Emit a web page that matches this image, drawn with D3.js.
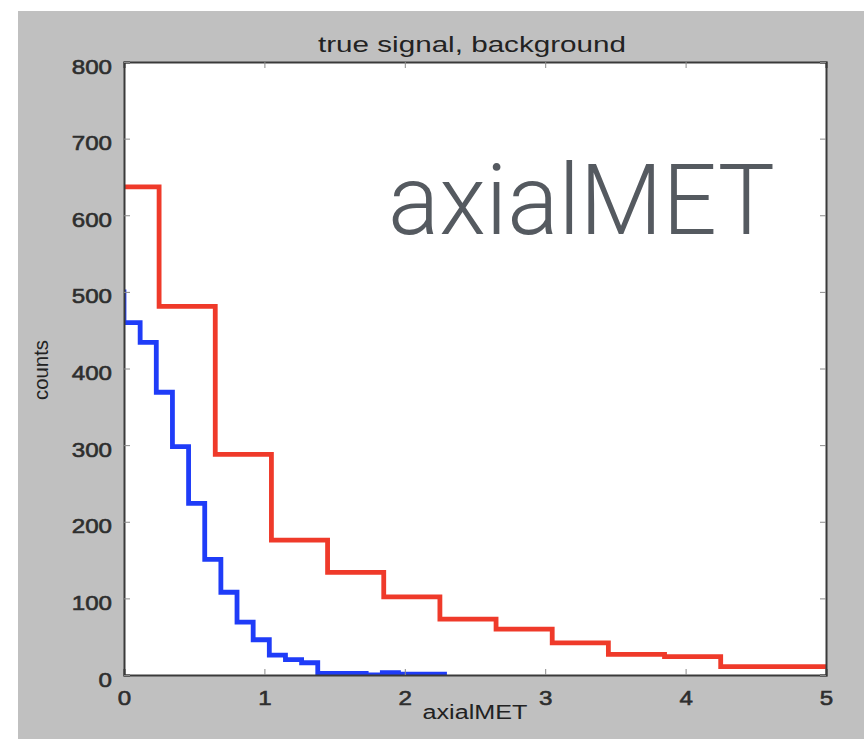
<!DOCTYPE html>
<html>
<head>
<meta charset="utf-8">
<script src="https://cdn.jsdelivr.net/npm/d3@7"></script>
<style>
  html, body { margin: 0; padding: 0; background: #ffffff; }
  svg { display: block; }
</style>
</head>
<body>
<svg id="chart" width="864" height="739"></svg>
<script>
// ---- data ----
const chartTitle = "true signal, background";
const xLabel = "axialMET";
const yLabel = "counts";
const annotation = "axialMET";
const xTicks = [0, 1, 2, 3, 4, 5];
const yTicks = [0, 100, 200, 300, 400, 500, 600, 700, 800];

// background (red) histogram: bin edges and counts
const redEdges = [-0.15, 0.25, 0.65, 1.05, 1.45, 1.85, 2.25, 2.65, 3.05, 3.45, 3.85, 4.25, 4.65, 5.05];
const redCounts = [637, 481, 288, 176, 134, 102, 73, 60, 42, 27, 24, 11, 11];

// signal (blue) histogram: bin edges and counts
const blueEdges = [-0.115, 0, 0.115, 0.23, 0.345, 0.46, 0.575, 0.69, 0.805, 0.92, 1.035, 1.15, 1.265, 1.38,
                   1.495, 1.61, 1.725, 1.84, 1.955, 2.07, 2.185, 2.30];
const blueCounts = [500, 460, 434, 369, 298, 224, 151, 108, 69, 46, 26, 20, 16, 2, 2, 2, 0, 3, 1, 1, 1];

// ---- layout ----
const W = 864, H = 739;
const plot = { left: 124, right: 826, top: 62, bottom: 675 };

const svg = d3.select("#chart");

// figure background
svg.append("rect").attr("x", 18).attr("y", 11).attr("width", W - 18).attr("height", H - 11)
  .attr("fill", "#c0c0c0");

const x = d3.scaleLinear().domain([0, 5]).range([plot.left, plot.right]);
const y = d3.scaleLinear().domain([0, 800]).range([plot.bottom, plot.top]);

// plot area
svg.append("rect").attr("x", plot.left).attr("y", plot.top)
  .attr("width", plot.right - plot.left).attr("height", plot.bottom - plot.top)
  .attr("fill", "#ffffff");

svg.append("clipPath").attr("id", "clip").append("rect")
  .attr("x", plot.left).attr("y", plot.top)
  .attr("width", plot.right - plot.left).attr("height", plot.bottom - plot.top);

// annotation text
svg.append("text")
  .attr("x", x(1.88)).attr("y", y(576))
  .attr("font-family", "Roboto, 'Open Sans', sans-serif")
  .attr("font-weight", 300)
  .attr("font-size", 98)
  .attr("fill", "#555a60")
  .attr("textLength", 387)
  .attr("lengthAdjust", "spacingAndGlyphs")
  .text(annotation);

// step lines
function stairs(edges, counts) {
  const pts = counts.map((c, i) => [edges[i], c]);
  pts.push([edges[edges.length - 1], counts[counts.length - 1]]);
  return pts;
}
const line = d3.line().x(d => x(d[0])).y(d => y(d[1])).curve(d3.curveStepAfter);

const g = svg.append("g").attr("clip-path", "url(#clip)");
g.append("path").datum(stairs(redEdges, redCounts))
  .attr("d", line).attr("fill", "none").attr("stroke", "#ef3a2a").attr("stroke-width", 4.8);
g.append("path").datum(stairs(blueEdges, blueCounts))
  .attr("d", line).attr("fill", "none").attr("stroke", "#1f3cf8").attr("stroke-width", 4.8);

// axes (matlab-style box with inward ticks)
const tickFont = "'Liberation Sans', Arial, Helvetica, sans-serif";
const axisColor = "#3a3a3a";

const axB = svg.append("g").attr("transform", `translate(0,${plot.bottom})`)
  .call(d3.axisBottom(x).tickValues(xTicks).tickSize(-6).tickFormat(d3.format("d")));
const axT = svg.append("g").attr("transform", `translate(0,${plot.top})`)
  .call(d3.axisTop(x).tickValues(xTicks).tickSize(-6).tickFormat(""));
const axL = svg.append("g").attr("transform", `translate(${plot.left},0)`)
  .call(d3.axisLeft(y).tickValues(yTicks).tickSize(-6).tickFormat(d3.format("d")));
const axR = svg.append("g").attr("transform", `translate(${plot.right},0)`)
  .call(d3.axisRight(y).tickValues(yTicks).tickSize(-6).tickFormat(""));

[axB, axT, axL, axR].forEach(a => {
  a.select(".domain").attr("stroke", axisColor).attr("stroke-width", 2);
  a.selectAll(".tick line").attr("stroke", "#8a8a8a").attr("stroke-width", 1);
  a.selectAll(".tick text").attr("font-family", tickFont).attr("font-size", 21)
    .attr("font-weight", "normal").attr("fill", "#2e2e2e")
    .attr("stroke", "#2e2e2e").attr("stroke-width", 0.6);
});
axL.selectAll(".tick text").attr("x", 0).attr("dy", 0)
  .attr("transform", "translate(-12,11) scale(1.15,1)");
axB.selectAll(".tick text").attr("y", 0).attr("dy", 0)
  .attr("transform", "translate(0,30) scale(1.15,1)");

// titles
svg.append("text").attr("x", 472).attr("y", 52)
  .attr("text-anchor", "middle").attr("font-family", tickFont).attr("font-size", 22)
  .attr("fill", "#222").attr("textLength", 308).attr("lengthAdjust", "spacingAndGlyphs")
  .text(chartTitle);

svg.append("text").attr("x", 475).attr("y", 719)
  .attr("text-anchor", "middle").attr("font-family", tickFont).attr("font-size", 20)
  .attr("fill", "#222").attr("textLength", 105).attr("lengthAdjust", "spacingAndGlyphs")
  .text(xLabel);

svg.append("text")
  .attr("transform", `translate(48,370) rotate(-90)`)
  .attr("text-anchor", "middle").attr("font-family", tickFont).attr("font-size", 20)
  .attr("fill", "#222").attr("textLength", 60).attr("lengthAdjust", "spacingAndGlyphs")
  .text(yLabel);
</script>
</body>
</html>
